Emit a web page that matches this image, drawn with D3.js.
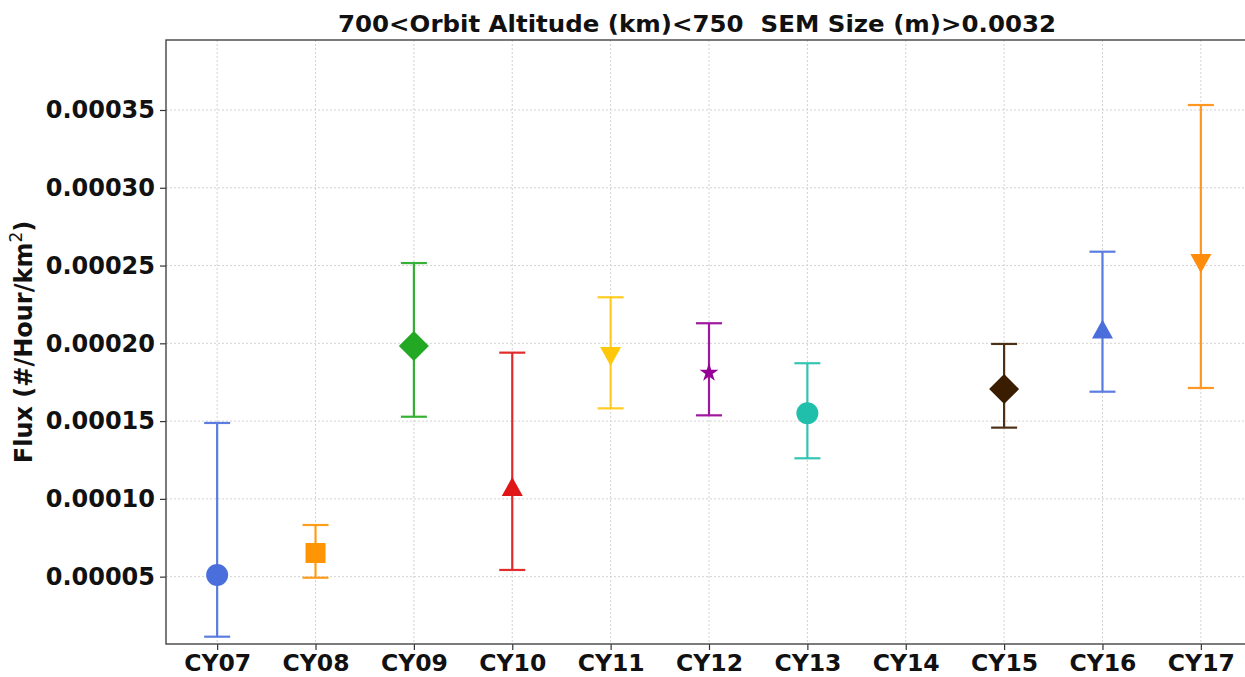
<!DOCTYPE html>
<html>
<head>
<meta charset="utf-8">
<script src="https://cdn.jsdelivr.net/npm/d3@7"></script>
<style>
  html, body { margin: 0; padding: 0; background: #fff; }
  svg { display: block; font-family: "DejaVu Sans", sans-serif; }
</style>
</head>
<body>
<svg id="chart" width="1245" height="677"></svg>
<script>
// Flux per campaign year, with lower / upper error limits
const categories = ["CY07","CY08","CY09","CY10","CY11","CY12","CY13","CY14","CY15","CY16","CY17"];
const flux  = [0.0000511, 0.0000652, 0.0001983, 0.0001076, 0.0001918, 0.0001811, 0.0001550, null, 0.0001706, 0.0002089, 0.0002516];
const lower = [0.0000114, 0.0000493, 0.0001528, 0.0000543, 0.0001582, 0.0001537, 0.0001261, null, 0.0001458, 0.0001689, 0.0001713];
const upper = [0.0001488, 0.0000832, 0.0002516, 0.0001940, 0.0002296, 0.0002129, 0.0001872, null, 0.0001996, 0.0002589, 0.0003532];
const yTicks = [0.00005, 0.00010, 0.00015, 0.00020, 0.00025, 0.00030, 0.00035];

// marker styling per year
const colors  = ["#4a6fdc","#ff9405","#22a822","#e01515","#ffc70a","#960096","#1fbfab","#000000","#3a1c00","#4a6fdc","#ff8c0a"];
const symbols = ["circle","square","diamond","triangleUp","triangleDown","star","circle",null,"diamond","triangleUp","triangleDown"];

const svg = d3.select("#chart");
const plotL = 166, plotR = 1252, plotT = 40, plotB = 644;

const x = d3.scaleLinear().domain([-0.52, categories.length - 1 + 0.52]).range([plotL, plotR]);
const y = d3.scaleLinear().domain([0.0000067, 0.000395]).range([plotB, plotT]);

// grid
const grid = svg.append("g").attr("stroke", "#d2d2d2").attr("stroke-width", 1).attr("stroke-dasharray", "2,2");
grid.selectAll("line.h").data(yTicks).join("line").attr("class", "h")
  .attr("x1", plotL).attr("x2", plotR)
  .attr("y1", d => y(d)).attr("y2", d => y(d));
grid.selectAll("line.v").data(categories).join("line").attr("class", "v")
  .attr("x1", (d, i) => x(i)).attr("x2", (d, i) => x(i))
  .attr("y1", plotT).attr("y2", plotB);

// axes
const yAxis = d3.axisLeft(y).tickValues(yTicks).tickSize(6).tickPadding(5).tickFormat(d3.format(".5f"));
const xAxis = d3.axisBottom(x).tickValues(d3.range(categories.length)).tickSize(6).tickPadding(4)
  .tickFormat(i => categories[i]);

const gy = svg.append("g").attr("transform", `translate(${plotL},0)`).call(yAxis);
const gx = svg.append("g").attr("transform", `translate(0,${plotB})`).call(xAxis);
[gx, gy].forEach(g => {
  g.select(".domain").remove();
  g.selectAll(".tick line").attr("stroke", "#333").attr("stroke-width", 1.2);
  g.selectAll(".tick text").attr("fill", "#111").attr("font-weight", "bold")
    .attr("font-family", "DejaVu Sans, sans-serif");
});
gy.selectAll(".tick text").attr("font-size", 24);
gx.selectAll(".tick text").attr("font-size", 23.5);

// frame
svg.append("rect").attr("x", plotL).attr("y", plotT).attr("width", plotR - plotL).attr("height", plotB - plotT)
  .attr("fill", "none").attr("stroke", "#444").attr("stroke-width", 1.4);

// error bars and markers
const pts = categories.map((c, i) => ({ i, v: flux[i], lo: lower[i], hi: upper[i], color: colors[i], sym: symbols[i] }))
  .filter(d => d.v != null);

const capHalf = 13;
const eb = svg.append("g");
pts.forEach(d => {
  const g = eb.append("g").attr("stroke", d.color).attr("stroke-width", 2.2).attr("opacity", 0.9);
  g.append("line").attr("x1", x(d.i)).attr("x2", x(d.i)).attr("y1", y(d.lo)).attr("y2", y(d.hi));
  g.append("line").attr("x1", x(d.i) - capHalf).attr("x2", x(d.i) + capHalf).attr("y1", y(d.hi)).attr("y2", y(d.hi));
  g.append("line").attr("x1", x(d.i) - capHalf).attr("x2", x(d.i) + capHalf).attr("y1", y(d.lo)).attr("y2", y(d.lo));
});

function markerPath(sym) {
  switch (sym) {
    case "circle": return d3.symbol(d3.symbolCircle, Math.PI * 11 * 11)();
    case "square": return "M-10,-10H10V10H-10Z";
    case "diamond": return "M0,-15L15,0L0,15L-15,0Z";
    case "triangleUp": return "M0,-10L10.5,9L-10.5,9Z";
    case "triangleDown": return "M0,10L10.5,-9L-10.5,-9Z";
    case "star": return d3.symbol(d3.symbolStar, 110)();
  }
}
svg.append("g").selectAll("path").data(pts).join("path")
  .attr("transform", d => `translate(${x(d.i)},${y(d.v)})`)
  .attr("d", d => markerPath(d.sym))
  .attr("fill", d => d.color);

// title
svg.append("text").attr("x", 697).attr("y", 32).attr("text-anchor", "middle")
  .attr("font-size", 23.5).attr("font-weight", "bold").attr("fill", "#111")
  .attr("xml:space", "preserve")
  .attr("textLength", 718).attr("lengthAdjust", "spacingAndGlyphs")
  .text("700<Orbit Altitude (km)<750  SEM Size (m)>0.0032");

// y label
const yl = svg.append("text").attr("transform", `translate(32,${(plotT + plotB) / 2}) rotate(-90)`)
  .attr("text-anchor", "middle").attr("font-size", 24).attr("font-weight", "bold").attr("fill", "#111");
yl.append("tspan").text("Flux (#/Hour/km");
yl.append("tspan").attr("dy", -10).attr("font-size", 17).attr("font-weight", "normal").text("2");
yl.append("tspan").attr("dy", 10).text(")");
</script>
</body>
</html>
